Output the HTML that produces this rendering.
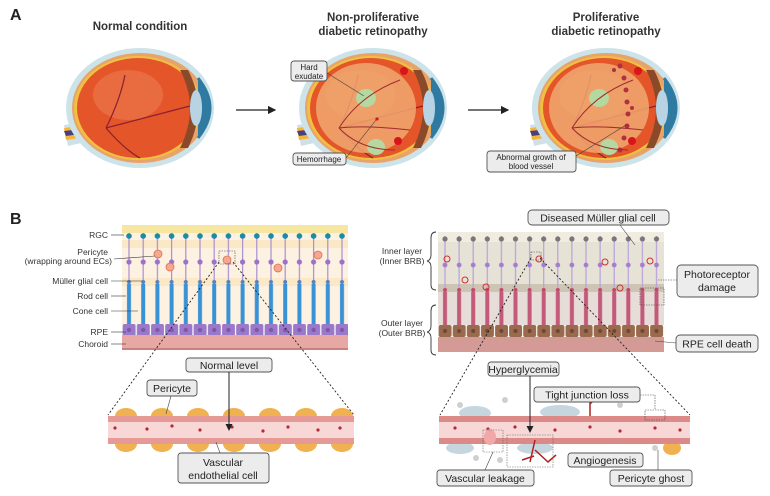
<!DOCTYPE html>
<html><head><meta charset="utf-8"><style>
html,body{margin:0;padding:0;background:#fff;}
svg{display:block;font-family:"Liberation Sans",sans-serif;}
.lb{fill:#ececec;stroke:#555;stroke-width:0.9;}
</style></head><body>
<svg width="770" height="496" viewBox="0 0 770 496" xmlns="http://www.w3.org/2000/svg">
<defs>
<pattern id="lcells" x="122" y="0" width="14.2" height="496" patternUnits="userSpaceOnUse">
<line x1="7" y1="233" x2="7" y2="285" stroke="#a88fd0" stroke-width="1.2"/>
<circle cx="7" cy="236" r="2.8" fill="#1e88a8"/>
<circle cx="7" cy="262" r="2.6" fill="#9b72c8"/>
<rect x="5" y="284" width="4" height="40" fill="#3a92d6"/>
<circle cx="7" cy="282" r="2" fill="#5b7fc0"/>
</pattern>
<pattern id="rcells" x="438" y="0" width="14.1" height="496" patternUnits="userSpaceOnUse">
<line x1="7" y1="236" x2="7" y2="290" stroke="#b9a0db" stroke-width="1.2"/>
<circle cx="7" cy="239" r="2.6" fill="#777"/>
<circle cx="7" cy="265" r="2.4" fill="#a57ed0"/>
<rect x="5" y="292" width="4" height="33" fill="#c45a7a"/>
<circle cx="7" cy="290" r="2" fill="#c04a6a"/>
</pattern>
<pattern id="rpeL" x="122" y="0" width="14.2" height="496" patternUnits="userSpaceOnUse">
<rect x="0.6" y="324" width="13" height="12" rx="2" fill="#9b78c8"/>
<circle cx="7" cy="330" r="2.2" fill="#7a58b0"/>
</pattern>
<pattern id="rpeR" x="438" y="0" width="14.1" height="496" patternUnits="userSpaceOnUse">
<rect x="0.6" y="325" width="13" height="12" rx="2" fill="#9a6a4e"/>
<circle cx="7" cy="331" r="2" fill="#6e4633"/>
</pattern>
<pattern id="peri" x="108" y="0" width="36" height="496" patternUnits="userSpaceOnUse">
<ellipse cx="18" cy="416" rx="11" ry="8" fill="#f0b250"/>
<ellipse cx="18" cy="444" rx="11" ry="8" fill="#f0b250"/>
</pattern>
<marker id="ar" markerWidth="7" markerHeight="7" refX="6" refY="3.5" orient="auto"><path d="M0,0 L7,3.5 L0,7z" fill="#222"/></marker>
</defs>

<!-- Panel A -->
<text x="10" y="20" font-size="16" font-weight="bold" fill="#222">A</text>
<text x="140" y="30" font-size="11.5" font-weight="bold" text-anchor="middle" fill="#333">Normal condition</text>
<text x="373" y="21" font-size="11.5" font-weight="bold" text-anchor="middle" fill="#333">Non-proliferative</text>
<text x="373" y="35" font-size="11.5" font-weight="bold" text-anchor="middle" fill="#333">diabetic retinopathy</text>
<text x="606" y="21" font-size="11.5" font-weight="bold" text-anchor="middle" fill="#333">Proliferative</text>
<text x="606" y="35" font-size="11.5" font-weight="bold" text-anchor="middle" fill="#333">diabetic retinopathy</text>

<g id="eye1">
<path d="M64,125 L110,118 L112,136 L68,146Z" fill="#cfe0e8"/>
<path d="M64,128 L110,122 L110,133 L66,140Z" fill="#f3b53a"/>
<path d="M64,131 L110,126 L110,130 L66,136Z" fill="#4a3f80"/>
<ellipse cx="140" cy="108" rx="74" ry="60" fill="#cde3ea"/>
<ellipse cx="140" cy="108" rx="68" ry="55" fill="#e8a36a"/>
<ellipse cx="138" cy="108" rx="64" ry="52" fill="#f0c040"/>
<ellipse cx="138" cy="108" rx="61" ry="50" fill="#e4552a"/>
<ellipse cx="128" cy="95" rx="35" ry="25" fill="#ec7a50" opacity="0.6"/>
<path d="M180,70 Q200,108 180,148 L188,148 Q208,108 188,70Z" fill="#8a4a2a"/>
<path d="M198,78 Q222,108 198,138" fill="#2f7aa0" stroke="#2f7aa0" stroke-width="3"/>
<ellipse cx="196" cy="108" rx="6" ry="18" fill="#b8d4e4"/>
<path d="M106,128 L190,106 M106,128 Q120,100 125,75 M106,128 Q125,150 140,158" stroke="#8a2030" stroke-width="1.2" fill="none"/>
</g>
<use href="#eye1" x="233"/>
<use href="#eye1" x="466"/>
<g fill="#f0a870" opacity="0.85"><ellipse cx="366" cy="108" rx="50" ry="45"/><ellipse cx="599" cy="108" rx="50" ry="45"/></g>
<g fill="#b5d8a0"><ellipse cx="366" cy="98" rx="10" ry="9"/><ellipse cx="376" cy="147" rx="9" ry="8"/><ellipse cx="599" cy="98" rx="10" ry="9"/><ellipse cx="609" cy="147" rx="9" ry="8"/></g>
<g fill="#d8151a"><circle cx="404" cy="71" r="4"/><circle cx="398" cy="141" r="4"/><circle cx="377" cy="119" r="1.6"/><circle cx="638" cy="71" r="4"/><circle cx="632" cy="141" r="4"/></g>
<g fill="#b03040"><circle cx="620" cy="66" r="2.5"/><circle cx="624" cy="78" r="2.5"/><circle cx="626" cy="90" r="2.5"/><circle cx="627" cy="102" r="2.5"/><circle cx="628" cy="114" r="2.5"/><circle cx="627" cy="126" r="2.5"/><circle cx="624" cy="138" r="2.5"/><circle cx="620" cy="150" r="2.5"/><circle cx="614" cy="70" r="2"/><circle cx="632" cy="108" r="2"/></g>
<g stroke="#a02a30" stroke-width="1" fill="none"><path d="M339,128 Q360,95 400,80 M339,128 Q365,125 410,130 M339,128 Q360,150 395,150"/><path d="M572,128 Q593,95 633,80 M572,128 Q598,125 643,130 M572,128 Q593,150 628,150"/></g>

<line x1="236" y1="110" x2="275" y2="110" stroke="#222" stroke-width="1.2" marker-end="url(#ar)"/>
<line x1="468" y1="110" x2="508" y2="110" stroke="#222" stroke-width="1.2" marker-end="url(#ar)"/>

<rect class="lb" x="291" y="61" width="36" height="20" rx="3"/>
<text x="309" y="70" font-size="8" text-anchor="middle" fill="#222">Hard</text>
<text x="309" y="79" font-size="8" text-anchor="middle" fill="#222">exudate</text>
<line x1="327" y1="73" x2="364" y2="96" stroke="#444" stroke-width="0.6"/>
<rect class="lb" x="293" y="153" width="53" height="12" rx="3"/>
<text x="319" y="162" font-size="8" text-anchor="middle" fill="#222">Hemorrhage</text>
<line x1="346" y1="158" x2="376" y2="120" stroke="#444" stroke-width="0.6"/>
<rect class="lb" x="487" y="151" width="89" height="21" rx="3"/>
<text x="531" y="160" font-size="8" text-anchor="middle" fill="#222">Abnormal growth of</text>
<text x="531" y="169" font-size="8" text-anchor="middle" fill="#222">blood vessel</text>
<line x1="576" y1="156" x2="626" y2="125" stroke="#444" stroke-width="0.6"/>

<!-- Panel B -->
<text x="10" y="224" font-size="16" font-weight="bold" fill="#222">B</text>
<!-- left retina -->
<rect x="122" y="225" width="226" height="8" fill="#f7e6a0"/>
<rect x="122" y="233" width="226" height="92" fill="#fdf1e2"/>
<rect x="122" y="240" width="226" height="8" fill="#fbe8c6"/>
<rect x="122" y="278" width="226" height="8" fill="#fbe8c6"/>
<rect x="122" y="225" width="226" height="100" fill="url(#lcells)"/>
<rect x="122" y="324" width="226" height="13" fill="url(#rpeL)"/>
<rect x="122" y="335" width="226" height="15" fill="#e7a8a4"/>
<rect x="122" y="348" width="226" height="2" fill="#c98080"/>
<g fill="#f4a890" stroke="#e07050" stroke-width="0.8"><circle cx="158" cy="254" r="4"/><circle cx="170" cy="267" r="4"/><circle cx="227" cy="260" r="4"/><circle cx="278" cy="268" r="4"/><circle cx="318" cy="255" r="4"/></g>
<g font-size="8.5" fill="#333" text-anchor="end">
<text x="108" y="238">RGC</text>
<text x="108" y="255">Pericyte</text>
<text x="112" y="264">(wrapping around ECs)</text>
<text x="108" y="284">Müller glial cell</text>
<text x="108" y="299">Rod cell</text>
<text x="108" y="314">Cone cell</text>
<text x="108" y="335">RPE</text>
<text x="108" y="347">Choroid</text>
</g>
<g stroke="#333" stroke-width="0.6">
<line x1="111" y1="235" x2="124" y2="235"/><line x1="114" y1="259" x2="155" y2="256"/><line x1="111" y1="281" x2="142" y2="281"/><line x1="111" y1="296" x2="126" y2="296"/><line x1="111" y1="311" x2="138" y2="311"/><line x1="111" y1="332" x2="126" y2="332"/><line x1="111" y1="344" x2="126" y2="344"/>
</g>
<rect x="219" y="251" width="16" height="13" fill="none" stroke="#444" stroke-width="0.6" stroke-dasharray="1.5,1"/>
<line x1="219" y1="262" x2="108" y2="415" stroke="#222" stroke-width="0.9" stroke-dasharray="2,2"/>
<line x1="233" y1="262" x2="354" y2="415" stroke="#222" stroke-width="0.9" stroke-dasharray="2,2"/>

<!-- right retina -->
<rect x="438" y="232" width="226" height="60" fill="#e7e2d6"/>
<rect x="438" y="232" width="226" height="10" fill="#f0ece0"/>
<rect x="438" y="284" width="226" height="8" fill="#cdc4b4"/>
<rect x="438" y="292" width="226" height="33" fill="#e6dcd8"/>
<rect x="438" y="232" width="226" height="93" fill="url(#rcells)"/>
<rect x="438" y="324" width="226" height="13" fill="url(#rpeR)"/>
<rect x="438" y="337" width="226" height="15" fill="#d49a96"/>
<g fill="none" stroke="#d03030" stroke-width="1"><circle cx="447" cy="259" r="3"/><circle cx="465" cy="280" r="3"/><circle cx="486" cy="287" r="3"/><circle cx="539" cy="259" r="3"/><circle cx="605" cy="262" r="3"/><circle cx="650" cy="261" r="3"/><circle cx="620" cy="288" r="3"/></g>
<g fill="none" stroke="#333" stroke-width="0.9">
<path d="M436,232 Q431,232 431,238 L431,255 Q431,260 427,261 Q431,262 431,267 L431,285 Q431,290 436,290"/>
<path d="M436,305 Q431,305 431,311 L431,326 Q431,331 427,332 Q431,333 431,338 L431,350 Q431,355 436,355"/>
</g>
<g font-size="8.5" fill="#333" text-anchor="middle">
<text x="402" y="254">Inner layer</text><text x="402" y="264">(Inner BRB)</text>
<text x="402" y="326">Outer layer</text><text x="402" y="336">(Outer BRB)</text>
</g>
<rect class="lb" x="528" y="210" width="141" height="15" rx="4"/>
<text x="598" y="221.5" font-size="10.5" text-anchor="middle" fill="#222">Diseased Müller glial cell</text>
<line x1="620" y1="225" x2="635" y2="245" stroke="#444" stroke-width="0.6"/>
<rect class="lb" x="677" y="265" width="81" height="32" rx="4"/>
<text x="717" y="278" font-size="10.5" text-anchor="middle" fill="#222">Photoreceptor</text>
<text x="717" y="291" font-size="10.5" text-anchor="middle" fill="#222">damage</text>
<path d="M677,280 L658,280 M640,288 L664,288 L664,305 L640,305 Z" stroke="#444" stroke-width="0.6" fill="none" stroke-dasharray="1.5,1"/>
<rect class="lb" x="676" y="335" width="82" height="17" rx="4"/>
<text x="717" y="347.5" font-size="10.5" text-anchor="middle" fill="#222">RPE cell death</text>
<line x1="676" y1="343" x2="655" y2="341" stroke="#444" stroke-width="0.6"/>
<rect x="531" y="252" width="10" height="8" fill="none" stroke="#444" stroke-width="0.6" stroke-dasharray="1.5,1"/>
<line x1="531" y1="258" x2="440" y2="415" stroke="#222" stroke-width="0.9" stroke-dasharray="2,2"/>
<line x1="540" y1="258" x2="690" y2="415" stroke="#222" stroke-width="0.9" stroke-dasharray="2,2"/>

<!-- left vessel -->
<rect x="108" y="400" width="246" height="60" fill="url(#peri)"/>
<rect x="108" y="416" width="246" height="28" fill="#f8d8d6"/>
<rect x="108" y="416" width="246" height="6" fill="#e69a96"/>
<rect x="108" y="438" width="246" height="6" fill="#e69a96"/>
<g fill="#b82838"><circle cx="115" cy="428" r="1.6"/><circle cx="147" cy="429" r="1.6"/><circle cx="172" cy="426" r="1.6"/><circle cx="200" cy="430" r="1.6"/><circle cx="232" cy="427" r="1.6"/><circle cx="263" cy="431" r="1.6"/><circle cx="288" cy="427" r="1.6"/><circle cx="318" cy="430" r="1.6"/><circle cx="340" cy="428" r="1.6"/></g>
<rect class="lb" x="186" y="358" width="86" height="14" rx="3"/>
<text x="229" y="369" font-size="10.5" text-anchor="middle" fill="#222">Normal level</text>
<line x1="229" y1="372" x2="229" y2="430" stroke="#222" stroke-width="1" marker-end="url(#ar)"/>
<rect class="lb" x="147" y="380" width="50" height="16" rx="3"/>
<text x="172" y="392" font-size="10.5" text-anchor="middle" fill="#222">Pericyte</text>
<line x1="171" y1="396" x2="166" y2="414" stroke="#444" stroke-width="0.6"/>
<rect class="lb" x="178" y="453" width="91" height="30" rx="3"/>
<text x="223" y="466" font-size="10.5" text-anchor="middle" fill="#222">Vascular</text>
<text x="223" y="479" font-size="10.5" text-anchor="middle" fill="#222">endothelial cell</text>
<line x1="220" y1="453" x2="216" y2="442" stroke="#444" stroke-width="0.6"/>

<!-- right vessel -->
<g fill="#b8ccd8" opacity="0.8"><ellipse cx="475" cy="413" rx="16" ry="7"/><ellipse cx="560" cy="412" rx="20" ry="7"/><ellipse cx="460" cy="448" rx="14" ry="6"/><ellipse cx="535" cy="448" rx="18" ry="6"/></g>
<ellipse cx="672" cy="448" rx="9" ry="7" fill="#f0b250"/>
<rect x="439" y="416" width="251" height="28" fill="#f8d8d6"/>
<rect x="439" y="416" width="251" height="6" fill="#dc8a88"/>
<rect x="439" y="438" width="251" height="6" fill="#dc8a88"/>
<g fill="#b82838"><circle cx="455" cy="428" r="1.6"/><circle cx="488" cy="429" r="1.6"/><circle cx="515" cy="427" r="1.6"/><circle cx="555" cy="430" r="1.6"/><circle cx="590" cy="427" r="1.6"/><circle cx="620" cy="431" r="1.6"/><circle cx="655" cy="428" r="1.6"/><circle cx="680" cy="430" r="1.6"/></g>
<path d="M535,440 L530,462 M535,450 L548,462 L556,455 M534,456 L522,460 M590,390 L590,416 M590,400 L582,395 M590,404 L598,396" stroke="#b02020" stroke-width="1.5" fill="none"/>
<ellipse cx="490" cy="437" rx="6" ry="8" fill="#f2a8a8"/>
<rect class="lb" x="488" y="362" width="71" height="14" rx="3"/>
<text x="523" y="373" font-size="10.5" text-anchor="middle" fill="#222">Hyperglycemia</text>
<line x1="530" y1="376" x2="530" y2="432" stroke="#222" stroke-width="1" marker-end="url(#ar)"/>
<rect class="lb" x="534" y="387" width="106" height="15" rx="3"/>
<text x="587" y="398.5" font-size="10.5" text-anchor="middle" fill="#222">Tight junction loss</text>
<path d="M640,395 L655,395 L655,410 M645,410 L665,410 L665,420 L645,420Z" stroke="#444" stroke-width="0.6" fill="none" stroke-dasharray="1.5,1"/>
<rect class="lb" x="568" y="453" width="75" height="14" rx="3"/>
<text x="605" y="464" font-size="10.5" text-anchor="middle" fill="#222">Angiogenesis</text>
<rect x="507" y="435" width="46" height="32" fill="none" stroke="#666" stroke-width="0.6" stroke-dasharray="1.5,1"/>
<rect x="483" y="430" width="20" height="22" fill="none" stroke="#666" stroke-width="0.6" stroke-dasharray="1.5,1"/>
<rect class="lb" x="437" y="470" width="97" height="16" rx="3"/>
<text x="485" y="482" font-size="10.5" text-anchor="middle" fill="#222">Vascular leakage</text>
<line x1="485" y1="470" x2="493" y2="452" stroke="#444" stroke-width="0.6"/>
<rect class="lb" x="610" y="470" width="82" height="16" rx="3"/>
<text x="651" y="482" font-size="10.5" text-anchor="middle" fill="#222">Pericyte ghost</text>
<line x1="658" y1="470" x2="658" y2="450" stroke="#444" stroke-width="0.6"/>
<g fill="#bbb" opacity="0.7"><circle cx="460" cy="405" r="3"/><circle cx="505" cy="400" r="3"/><circle cx="620" cy="405" r="3"/><circle cx="476" cy="458" r="3"/><circle cx="500" cy="460" r="3"/><circle cx="655" cy="448" r="3"/></g>
</svg>
</body></html>
